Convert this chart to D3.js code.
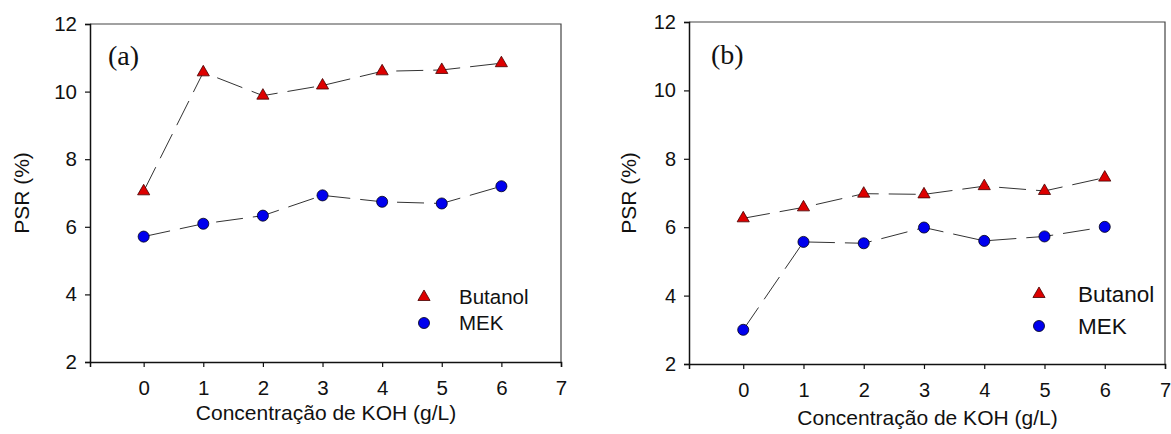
<!DOCTYPE html>
<html>
<head>
<meta charset="utf-8">
<script src="https://cdn.jsdelivr.net/npm/d3@7"></script>
<style>
  html, body { margin: 0; padding: 0; background: #fff; }
  svg { display: block; }
</style>
</head>
<body>
<svg id="chart" width="1171" height="434"></svg>
<script>
// KOH concentration (g/L)
const koh = [0, 1, 2, 3, 4, 5, 6];

// PSR (%) — panel (a)
const butanolA = [7.05, 10.57, 9.88, 10.18, 10.6, 10.64, 10.84];
const mekA = [5.71, 6.09, 6.33, 6.93, 6.74, 6.69, 7.2];

// PSR (%) — panel (b)
const butanolB = [6.26, 6.58, 6.98, 6.96, 7.2, 7.06, 7.45];
const mekB = [3.0, 5.57, 5.53, 5.99, 5.6, 5.73, 6.01];

const xTicks = [0, 1, 2, 3, 4, 5, 6, 7];
const yTicks = [2, 4, 6, 8, 10, 12];
const seriesNames = ["Butanol", "MEK"];

const SANS = '"Liberation Sans", Arial, sans-serif';
const SERIF = '"Liberation Serif", "Times New Roman", serif';

const svg = d3.select("#chart");

const panels = [
  {
    tag: "(a)", butanol: butanolA, mek: mekA,
    left: 90, right: 561, top: 24, bottom: 362,
    tagX: 108, tagY: 65, tagSize: 28,
    tickSize: 20.5, titleSize: 21, xPad: 13,
    yTitleX: 29, xTitleY: 420,
    legX: 424, legY1: 297, legY2: 323, legTextX: 459, legSize: 20.5
  },
  {
    tag: "(b)", butanol: butanolB, mek: mekB,
    left: 689, right: 1165, top: 22, bottom: 364,
    tagX: 711, tagY: 64, tagSize: 28,
    tickSize: 20, titleSize: 21, xPad: 14,
    yTitleX: 636, xTitleY: 425,
    legX: 1039, legY1: 294, legY2: 326, legTextX: 1078, legSize: 22.5
  }
];

panels.forEach(p => {
  const x = d3.scaleLinear().domain([-0.9, 7]).range([p.left, p.right]);
  const y = d3.scaleLinear().domain([2, 12]).range([p.bottom, p.top]);
  const g = svg.append("g");

  // frame (top and right)
  g.append("path")
    .attr("d", `M${p.left},${p.top}H${p.right}V${p.bottom}`)
    .attr("fill", "none").attr("stroke", "#444").attr("stroke-width", 1.2);

  // x axis
  const xAxis = g.append("g")
    .attr("transform", `translate(0,${p.bottom})`)
    .call(d3.axisBottom(x).tickValues(xTicks).tickSize(5).tickPadding(p.xPad).tickFormat(d3.format("d")));
  xAxis.select(".domain").attr("stroke", "#111").attr("stroke-width", 1.5);
  xAxis.selectAll(".tick line").attr("stroke", "#111").attr("stroke-width", 1.2);
  xAxis.selectAll("text")
    .style("font-size", p.tickSize + "px").style("font-family", SANS).style("fill", "#111");

  // y axis
  const yAxis = g.append("g")
    .attr("transform", `translate(${p.left},0)`)
    .call(d3.axisLeft(y).tickValues(yTicks).tickSize(5).tickPadding(8).tickFormat(d3.format("d")));
  yAxis.select(".domain").attr("stroke", "#111").attr("stroke-width", 1.5);
  yAxis.selectAll(".tick line").attr("stroke", "#111").attr("stroke-width", 1.2);
  yAxis.selectAll("text")
    .style("font-size", p.tickSize + "px").style("font-family", SANS).style("fill", "#111");

  // axis titles
  g.append("text")
    .attr("x", (p.left + p.right) / 2 + 0.5).attr("y", p.xTitleY)
    .attr("text-anchor", "middle")
    .style("font-size", p.titleSize + "px").style("font-family", SANS).style("fill", "#111")
    .text("Concentração de KOH (g/L)");
  g.append("text")
    .attr("transform", `translate(${p.yTitleX},${(p.top + p.bottom) / 2}) rotate(-90)`)
    .attr("text-anchor", "middle")
    .style("font-size", p.titleSize + "px").style("font-family", SANS).style("fill", "#111")
    .text("PSR (%)");

  // panel tag
  g.append("text")
    .attr("x", p.tagX).attr("y", p.tagY)
    .style("font-family", SERIF).style("font-size", p.tagSize + "px").style("fill", "#111")
    .text(p.tag);

  const line = d3.line().x((d, i) => x(koh[i])).y(d => y(d));
  const tri = d3.symbol().type(d3.symbolTriangle).size(64);
  const circ = d3.symbol().type(d3.symbolCircle).size(96);

  [p.butanol, p.mek].forEach(vals => {
    g.append("path").datum(vals)
      .attr("d", line).attr("fill", "none")
      .attr("stroke", "#333").attr("stroke-width", 1)
      .attr("stroke-dasharray", "27,10");
  });

  g.selectAll(".tri").data(p.butanol).enter().append("path")
    .attr("d", tri)
    .attr("transform", (d, i) => `translate(${x(koh[i])},${y(d)})`)
    .attr("fill", "#dd0000").attr("stroke", "#400").attr("stroke-width", 0.8);

  g.selectAll(".circ").data(p.mek).enter().append("path")
    .attr("d", circ)
    .attr("transform", (d, i) => `translate(${x(koh[i])},${y(d)})`)
    .attr("fill", "#0000ee").attr("stroke", "#001").attr("stroke-width", 0.8);

  // legend
  g.append("path").attr("d", tri)
    .attr("transform", `translate(${p.legX},${p.legY1})`)
    .attr("fill", "#dd0000").attr("stroke", "#400").attr("stroke-width", 0.8);
  g.append("path").attr("d", circ)
    .attr("transform", `translate(${p.legX},${p.legY2})`)
    .attr("fill", "#0000ee").attr("stroke", "#001").attr("stroke-width", 0.8);
  g.append("text").attr("x", p.legTextX).attr("y", p.legY1).attr("dy", "0.36em")
    .style("font-size", p.legSize + "px").style("font-family", SANS).style("fill", "#111")
    .text(seriesNames[0]);
  g.append("text").attr("x", p.legTextX).attr("y", p.legY2).attr("dy", "0.36em")
    .style("font-size", p.legSize + "px").style("font-family", SANS).style("fill", "#111")
    .text(seriesNames[1]);
});
</script>
</body>
</html>
